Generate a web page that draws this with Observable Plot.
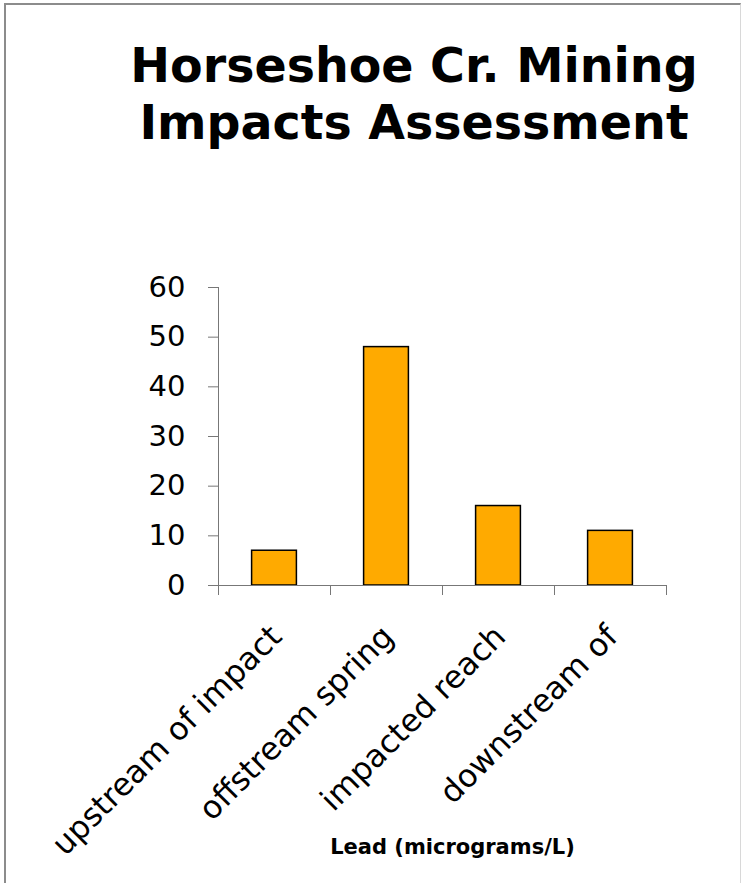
<!DOCTYPE html>
<html>
<head>
<meta charset="utf-8">
<script src="https://cdn.jsdelivr.net/npm/d3@7"></script>
<script src="https://cdn.jsdelivr.net/npm/@observablehq/plot@0.6"></script>
<style>
  html, body { margin: 0; padding: 0; background: #fff; }
  #wrap { position: relative; width: 743px; height: 883px; overflow: hidden; background: #fff; }
  #frame { position: absolute; left: 4px; top: 3px; width: 734px; height: 900px;
           border-left: 2px solid #8c8c8c; border-top: 2px solid #8c8c8c; border-right: 1px solid #d8d8d8; }
  #title { position: absolute; left: 114px; top: 37px; width: 600px; text-align: center;
           font-family: "DejaVu Sans", Verdana, sans-serif; font-weight: bold; font-size: 47.5px;
           line-height: 57px; color: #000; }
  #chart { position: absolute; left: 0; top: 0; }
</style>
</head>
<body>
<div id="wrap">
  <div id="frame"></div>
  <div id="chart"></div>
  <div id="title">Horseshoe Cr. Mining<br>Impacts Assessment</div>
</div>
<script>
const categories = ["upstream of impact", "offstream spring", "impacted reach", "downstream of"];
const leadValues = [7, 48, 16, 11];
const yTicks = [0, 10, 20, 30, 40, 50, 60];
const xLabel = "Lead (micrograms/L)";

const data = categories.map((c, i) => ({category: c, i, value: leadValues[i]}));
const boundaries = d3.range(categories.length + 1);

const chart = Plot.plot({
  width: 743,
  height: 883,
  marginTop: 287,
  marginBottom: 298,
  marginLeft: 218,
  marginRight: 77,
  style: {fontFamily: "DejaVu Sans, Verdana, sans-serif", background: "transparent", color: "#000"},
  x: {domain: [0, categories.length]},
  y: {domain: [0, 60]},
  marks: [
    Plot.rectY(data, {x1: d => d.i + 0.3, x2: d => d.i + 0.7, y: "value", fill: "#FFAA00", stroke: "#000", strokeWidth: 1.5}),
    Plot.ruleX([0], {stroke: "#777", strokeWidth: 1}),
    Plot.ruleY([0], {stroke: "#777", strokeWidth: 1}),
    Plot.axisY({ticks: yTicks, tickSize: 10, tickPadding: 23, fontSize: 29, stroke: "#777", fill: "#000", label: null}),
    Plot.axisX({ticks: boundaries, tickSize: 10, tickFormat: () => "", stroke: "#777", label: null}),
    Plot.text(data, {x: d => d.i + 0.5, text: "category", frameAnchor: "bottom", dx: 9, dy: 53,
      rotate: -45, textAnchor: "end", lineAnchor: "bottom", fontSize: 31.5, fill: "#000"}),
    Plot.text([xLabel], {frameAnchor: "bottom", dx: 10, dy: 268, lineAnchor: "bottom",
      fontSize: 21, fontWeight: "bold", fill: "#000"})
  ]
});
document.getElementById("chart").appendChild(chart);
</script>
</body>
</html>
